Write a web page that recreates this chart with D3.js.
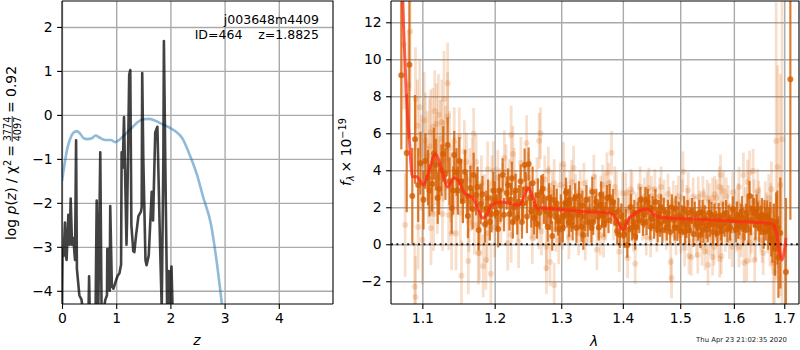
<!DOCTYPE html>
<html>
<head>
<meta charset="utf-8">
<script src="https://d3js.org/d3.v7.min.js"></script>
<style>
  html, body { margin: 0; padding: 0; background: #fff; }
  text { font-family: "DejaVu Sans", sans-serif; fill: #000; }
  .axis path, .axis line { stroke: #000; stroke-width: 1.1; }
  .axis text { font-size: 13.9px; font-family: "DejaVu Sans", sans-serif; }
  .grid line { stroke: #aaa; stroke-width: 1.4; }
  .grid path { display: none; }
</style>
</head>
<body>
<svg id="chart" width="800" height="350"></svg>
<script>
// redshift panel
const pzTicksX = [0, 1, 2, 3, 4];
const pzTicksY = [-4, -3, -2, -1, 0, 1, 2];
const priorCurve = [[0,-1.5],[0.05,-1.1],[0.1,-0.75],[0.15,-0.55],[0.2,-0.42],[0.27,-0.37],[0.33,-0.42],[0.4,-0.53],[0.47,-0.55],
  [0.55,-0.53],[0.62,-0.47],[0.7,-0.52],[0.8,-0.57],[0.9,-0.57],[0.98,-0.62],[1.1,-0.52],[1.2,-0.4],[1.3,-0.28],[1.4,-0.16],
  [1.5,-0.1],[1.6,-0.09],[1.7,-0.12],[1.8,-0.18],[1.9,-0.24],[2.0,-0.3],[2.1,-0.38],[2.23,-0.55],[2.32,-0.8],[2.49,-1.36],
  [2.6,-1.85],[2.75,-2.5],[2.85,-3.3],[2.95,-4.3]];
const pzCurve = [[0,-4.4],[0.01,-3.05],[0.03,-3.2],[0.055,-2.45],[0.07,-3.2],[0.085,-3.3],[0.117,-2.27],[0.14,-2.95],[0.16,-1.9],
  [0.185,-2.95],[0.21,-2.8],[0.24,-3.3],[0.26,-0.58],[0.275,-3.5],[0.32,-4.1],[0.36,-4.2],[0.38,-4.4],[0.49,-4.4],[0.5,-3.67],[0.51,-4.4],
  [0.62,-4.4],[0.64,-1.95],[0.67,-4.4],[0.706,-0.85],[0.73,-4.4],[0.78,-4.35],[0.8,-4.2],[0.83,-4.1],[0.836,-3.05],[0.86,-3.05],[0.88,-4.0],
  [0.89,-2.07],[0.92,-3.9],[0.95,-3.95],[1.0,-3.75],[1.03,-3.65],[1.06,-3.6],[1.09,-3.4],[1.1,-0.85],[1.12,-1.2],[1.144,-0.05],[1.19,-2.95],
  [1.2,-2.4],[1.24,0.92],[1.26,1.02],[1.28,-2.5],[1.315,-3.1],[1.335,-3.12],[1.365,-2.75],[1.41,-2.3],[1.457,-2.2],[1.47,-2.1],[1.48,0.95],
  [1.5,-1.0],[1.54,-3.3],[1.56,-3.42],[1.6,-3.2],[1.655,-1.75],[1.68,-2.4],[1.72,-0.4],[1.76,-0.27],[1.81,-3],[1.84,-4.4],[1.87,-1.0],
  [1.88,1.68],[1.91,-1.5],[1.94,-4.4],[1.97,-3.55],[1.99,-4.4],[2.02,-3.45],[2.04,-4.4]];

// spectrum panel, each row is wavelength, flux, error
const specTicksX = [1.1, 1.2, 1.3, 1.4, 1.5, 1.6, 1.7];
const specTicksY = [-2, 0, 2, 4, 6, 8, 10, 12];
const palePoints = [[1.0755,10.8,3.5],[1.084,11.5,3.2],[1.0815,8.6,3.0],[1.0965,7.4,2.6],[1.091,7.85,2.8],[1.0935,6.4,2.5],[1.1165,7.2,2.2],
  [1.129,7.85,2.6],[1.134,8.7,2.2],[1.134,6.9,2.4],[1.126,6.6,2.3],[1.119,6.5,2.2],[1.114,6.35,2.1],[1.111,6.07,2.3],[1.104,5.6,2.6],
  [1.1245,5.7,2.1],[1.143,5.6,1.8],[1.15,5.8,1.6],[1.17,5.97,1.4],[1.16,4.44,1.6],[1.1735,4.44,1.5],[1.19,4.05,1.5],[1.198,3.97,1.6],
  [1.0775,1.04,2.8],[1.0945,0.93,2.3],[1.1,0.23,2.4],[1.1115,0.87,2.0],[1.09,-2.3,2.4],[1.091,-2.85,2.2],[1.1455,0.6,2.0],[1.1395,0.6,2.0],
  [1.153,-1.7,1.9],[1.1625,-0.9,1.8],[1.1765,-0.47,1.7],[1.178,-0.47,1.5],[1.1835,-1.17,1.7],[1.1875,-0.85,1.6],[1.1945,-1.6,1.7],
  [1.12,2.56,2.0],[1.127,1.64,2.0],[1.115,1.64,2.0],[1.1355,1.58,1.9],[1.189,0.6,1.6],[1.171,1.04,1.6],[1.1635,1.2,1.6],[1.181,3.3,1.5],[1.196,3.3,1.5],
  [1.108,3.2,2.1],[1.122,3.6,2.0],[1.138,3.1,1.9],[1.155,2.9,1.7],[1.166,2.3,1.6],[1.186,2.3,1.5],[1.202,2.7,1.5],
  [1.268,6.0,1.4],[1.266,5.6,1.5],[1.224,5.9,1.6],[1.247,5.47,1.5],[1.2265,4.88,1.5],[1.214,4.66,1.5],[1.28,3.97,1.3],[1.3035,4.34,1.2],
  [1.3195,4.12,1.2],[1.3165,3.37,1.2],[1.289,3.3,1.3],[1.2805,2.94,1.3],[1.286,2.77,1.2],[1.3135,2.77,1.2],[1.277,-1.28,1.4],[1.2825,-0.96,1.3],
  [1.289,-2.2,1.2],[1.2555,0.34,1.4],[1.277,-0.15,1.3],[1.2655,1.04,1.3],[1.219,0.07,1.5],[1.235,0.12,1.4],[1.224,0.5,1.5],[1.209,1.42,1.5],
  [1.296,0.23,1.3],[1.312,0.39,1.2],[1.338,0.23,1.1],[1.343,1.0,1.1],[1.207,2.6,1.5],[1.231,2.5,1.5],[1.24,2.1,1.4],[1.252,3.2,1.4],[1.259,1.5,1.3],
  [1.272,2.4,1.3],[1.293,2.0,1.2],[1.3,1.3,1.2],[1.308,2.2,1.2],[1.325,1.7,1.2],[1.33,2.9,1.1],[1.34,2.4,1.1],
  [1.381,4.93,1.2],[1.352,3.64,1.2],[1.3735,3.86,1.1],[1.3765,3.3,1.1],[1.389,2.83,1.1],[1.3995,2.77,1.1],[1.405,2.77,1.1],[1.4135,2.97,1.1],
  [1.4445,3.04,1.1],[1.455,2.97,1.1],[1.466,3.1,1.1],[1.478,2.72,1.1],[1.4875,2.34,1.1],[1.497,2.61,1.1],[1.505,3.92,1.1],[1.357,-0.3,1.1],
  [1.394,-0.4,1.1],[1.408,-0.74,1.1],[1.421,-1.06,1.1],[1.483,-0.96,1.1],[1.4845,-1.82,1.1],[1.516,-0.63,1.0],[1.508,-0.2,1.0],[1.368,0.39,1.1],
  [1.3845,1.31,1.1],[1.3635,2.61,1.1],[1.346,2.0,1.1],[1.36,1.4,1.1],[1.37,2.7,1.1],[1.398,1.1,1.1],[1.411,1.8,1.1],[1.418,0.6,1.0],[1.427,2.2,1.1],
  [1.4335,1.2,1.0],[1.44,0.4,1.0],[1.449,2.6,1.1],[1.46,1.7,1.0],[1.471,2.4,1.1],[1.475,0.7,1.0],[1.49,1.0,1.0],[1.493,2.2,1.0],[1.501,0.5,1.0],[1.512,2.2,1.0],
  [1.6835,5.58,7.5],[1.6955,5.68,9],[1.6865,4.18,5.5],[1.692,3.2,6],[1.5745,3.75,1.1],[1.6185,3.75,1.2],[1.6305,3.86,1.2],[1.6375,3.96,1.2],
  [1.6265,3.37,1.2],[1.61,3.1,1.1],[1.5725,3.1,1.1],[1.5805,2.88,1.1],[1.6465,2.88,1.2],[1.674,2.97,1.5],[1.533,2.56,1.1],[1.5495,2.5,1.0],
  [1.5595,2.5,1.1],[1.567,2.5,1.0],[1.6685,2.5,1.3],[1.6485,2.23,1.2],[1.551,-1.12,1.1],[1.576,-0.63,1.0],[1.573,-0.8,1.0],[1.62,-1.0,1.1],
  [1.625,-0.9,1.1],[1.6405,-0.85,1.2],[1.68,-1.5,3.2],[1.52,-0.7,1.0],[1.532,-0.58,1.0],[1.5455,-0.4,1.0],[1.5595,-0.69,1.0],[1.5625,-0.15,1.0],
  [1.597,-0.13,1.1],[1.61,-0.15,1.1],[1.6575,-0.47,1.2],[1.54,-0.15,1.0],[1.5265,1.6,1.0],[1.538,0.9,1.0],[1.5435,2.0,1.0],[1.555,0.4,1.0],[1.565,1.3,1.0],
  [1.5835,0.6,1.0],[1.589,2.1,1.1],[1.5935,1.2,1.0],[1.603,1.9,1.1],[1.6145,0.4,1.1],[1.6225,2.0,1.1],[1.634,0.6,1.1],[1.644,1.7,1.2],[1.6525,0.8,1.2],
  [1.664,1.5,1.3],[1.671,0.2,1.4],[1.6775,-1.0,3.0]];
const paleExtra = [[1.0985,4.4,2.6],[1.1025,6.7,2.6],[1.1065,4.8,2.4],[1.1095,5.3,2.6],[1.1135,3.9,2.3],[1.1185,4.5,2.4],[1.1215,7.0,2.2],[1.128,4.5,2.2],
  [1.131,5.2,2.3],[1.1365,5.2,2.0],[1.1415,3.5,2.0],[1.1475,3.7,1.9],[1.1515,1.7,1.8],[1.157,5.0,1.7],[1.1645,3.5,1.7],[1.168,4.2,1.6],[1.175,2.5,1.6],
  [1.1795,1.5,1.6],[1.1925,1.7,1.5],[1.2,0.9,1.6],[1.2045,3.6,1.5],[1.2115,2.9,1.5],[1.2165,3.9,1.5],[1.2215,3.1,1.5],[1.2285,3.7,1.5],[1.2335,1.6,1.4],
  [1.2385,4.4,1.4],[1.2435,2.9,1.4],[1.2495,3.6,1.4],[1.2545,1.7,1.4],[1.2625,3.4,1.3],[1.2695,0.7,1.3],[1.2745,3.5,1.3],[1.2835,2.0,1.3],[1.2915,0.8,1.2],
  [1.2985,3.2,1.2],[1.3015,0.9,1.2],[1.3055,3.1,1.2],[1.3105,1.2,1.2],[1.3225,2.6,1.2],[1.3275,0.6,1.2],[1.3325,1.5,1.1],[1.336,3.3,1.1],[1.349,1.0,1.1],
  [1.3545,2.7,1.1],[1.3625,0.5,1.1],[1.3665,3.2,1.1],[1.3715,1.3,1.1],[1.3785,2.4,1.1],[1.3865,3.1,1.1],[1.3915,1.6,1.1],[1.4025,1.7,1.1],[1.4075,1.9,1.1],
  [1.4155,2.8,1.1],[1.4225,1.7,1.1],[1.4295,3.1,1.1],[1.4365,2.6,1.0],[1.4415,2.9,1.0],[1.4475,0.3,1.0],[1.4525,2.1,1.0],[1.4585,0.6,1.0],[1.4635,2.6,1.0],
  [1.4695,1.2,1.0],[1.4805,2.1,1.0],[1.4855,1.4,1.0],[1.4925,0.4,1.0],[1.4995,1.5,1.0],[1.5035,2.5,1.0],[1.5095,1.0,1.0],[1.5145,2.9,1.0],[1.5185,1.5,1.0],
  [1.5235,2.6,1.0],[1.5295,0.3,1.0],[1.5355,1.9,1.0],[1.5415,2.7,1.0],[1.5475,0.5,1.0],[1.5535,2.3,1.0],[1.5575,0.9,1.0],[1.5635,2.7,1.0],[1.5695,0.3,1.0],
  [1.5775,2.2,1.0],[1.5855,2.6,1.0],[1.5915,0.2,1.0],[1.5975,2.8,1.1],[1.6055,0.7,1.1],[1.6085,2.2,1.1],[1.6165,1.0,1.1],[1.6285,2.6,1.1],[1.6315,0.1,1.1],
  [1.6395,2.3,1.2],[1.6425,0.3,1.2],[1.6505,1.9,1.2],[1.6555,0.2,1.2],[1.6615,2.1,1.3],[1.6665,0.8,1.3],[1.6725,1.8,1.5],[1.6755,0.4,1.8]];
const darkPoints = [[1.0725,9.13,4.0],[1.0795,4.93,3.2],[1.083,9.7,4.0],[1.0868,2.61,2.6],[1.0904,5.67,2.4],[1.0945,3.2,2.0],[1.0975,4.38,1.7],
  [1.1015,2.4,1.6],[1.104,4.5,1.5],[1.1075,3.6,1.5],[1.113,3.26,1.5],[1.118,4.3,1.4],[1.1225,3.0,1.4],[1.128,4.88,1.5],[1.131,3.8,1.4],[1.134,5.36,1.5],
  [1.1395,1.96,1.4],[1.143,4.83,1.3],[1.148,2.9,1.3],[1.15,4.5,1.3],[1.155,2.34,1.2],[1.162,1.53,1.2],[1.1655,3.04,1.2],[1.17,3.75,1.2],[1.1735,2.66,1.1],
  [1.177,0.77,1.1],[1.18,2.18,1.1],[1.186,1.08,1.0],[1.1905,2.5,1.0],[1.1955,1.64,1.0],[1.2005,2.4,1.0],[1.205,0.83,1.0],[1.2085,2.1,0.9],[1.2115,3.75,0.9],
  [1.2175,2.77,0.9],[1.2215,1.64,0.9],[1.225,3.57,0.9],[1.2285,2.0,0.9],[1.233,1.42,0.9],[1.238,3.41,0.9],[1.2415,2.2,0.9],[1.244,4.28,0.9],[1.2475,1.5,0.9],
  [1.25,4.34,0.9],[1.254,1.8,0.9],[1.258,1.42,0.9],[1.2605,2.0,0.8],[1.264,2.66,0.9],[1.269,2.83,0.9],[1.2735,1.9,0.8],[1.279,0.93,0.8],[1.2825,1.58,0.8],
  [1.286,0.45,0.8],[1.291,1.48,0.8],[1.295,1.26,0.8],[1.2995,1.9,0.8],[1.3025,0.9,0.8],[1.306,2.23,0.8],[1.3095,1.7,0.8],[1.3125,1.2,0.8],[1.316,1.47,0.8],
  [1.32,1.9,0.8],[1.324,0.88,0.8],[1.328,2.61,0.8],[1.332,0.93,0.8],[1.335,0.5,0.8],[1.342,1.2,0.8],[1.348,0.88,0.8],[1.3495,2.84,0.8],[1.3535,1.9,0.7],
  [1.3585,1.48,0.7],[1.362,2.1,0.7],[1.3655,1.58,0.7],[1.369,1.1,0.7],[1.3735,2.5,0.7],[1.378,2.56,0.7],[1.3835,2.29,0.7],[1.389,1.15,0.7],[1.3925,1.8,0.7],
  [1.395,0.5,0.7],[1.4005,1.0,0.7],[1.4075,-0.04,0.7],[1.4135,2.02,0.7],[1.4175,1.2,0.7],[1.421,0.4,0.7],[1.4255,1.6,0.7],[1.43,2.4,0.7],[1.4345,1.15,0.7],
  [1.4385,2.4,0.7],[1.4425,2.29,0.7],[1.447,0.94,0.7],[1.451,1.9,0.7],[1.456,2.29,0.7],[1.462,1.69,0.7],[1.4655,2.0,0.7],[1.468,0.77,0.7],[1.4735,1.31,0.7],
  [1.478,1.7,0.7],[1.482,0.66,0.7],[1.488,1.31,0.7],[1.492,1.9,0.7],[1.495,0.88,0.7],[1.5025,1.42,0.7],[1.507,1.9,0.7],[1.5115,1.04,0.7],[1.516,0.77,0.7],
  [1.524,0.56,0.7],[1.5295,1.1,0.7],[1.535,1.7,0.7],[1.539,1.2,0.7],[1.5425,0.77,0.7],[1.548,1.0,0.7],[1.553,1.7,0.7],[1.5575,1.6,0.7],[1.5605,0.66,0.7],
  [1.566,1.1,0.7],[1.571,1.53,0.7],[1.575,0.9,0.7],[1.579,1.58,0.7],[1.585,1.69,0.7],[1.59,1.42,0.7],[1.5955,1.3,0.7],[1.6015,1.3,0.7],[1.6085,0.99,0.7],
  [1.6135,1.5,0.7],[1.6185,0.83,0.8],[1.624,1.4,0.8],[1.6305,2.61,0.8],[1.6365,1.9,0.8],[1.642,1.04,0.8],[1.647,1.5,0.8],[1.6525,1.3,0.8],[1.6585,0.66,0.9],
  [1.6625,1.1,0.9],[1.6655,1.47,0.9],[1.6695,1.0,1.0],[1.6735,0.34,1.0],[1.679,0.9,1.3],[1.6835,1.2,1.6],[1.688,-0.7,2.2],[1.692,0.61,3.0],[1.7035,-1.5,4.0],[1.7125,8.92,7.6]];
const darkExtra = [[1.1095,2.9,1.4],[1.1155,4.9,1.4],[1.1205,2.5,1.4],[1.1255,4.0,1.4],[1.1365,3.4,1.3],[1.1415,2.9,1.3],[1.146,3.9,1.3],[1.1525,3.4,1.2],
  [1.158,3.9,1.2],[1.1605,2.6,1.2],[1.1685,1.9,1.1],[1.1755,3.1,1.1],[1.1825,2.7,1.0],[1.188,1.9,1.0],[1.193,1.2,1.0],[1.198,2.9,1.0],[1.203,1.7,1.0],
  [1.2065,2.9,0.9],[1.2135,1.6,0.9],[1.2195,3.2,0.9],[1.2235,2.4,0.9],[1.2265,1.2,0.9],[1.2305,2.9,0.9],[1.2355,2.3,0.9],[1.24,1.2,0.9],[1.246,3.0,0.9],
  [1.252,2.5,0.9],[1.256,3.3,0.9],[1.2625,1.1,0.8],[1.2665,1.7,0.9],[1.2715,3.0,0.8],[1.2765,1.8,0.8],[1.281,2.5,0.8],[1.2845,1.9,0.8],[1.2885,2.4,0.8],
  [1.293,2.2,0.8],[1.2975,0.8,0.8],[1.3045,1.5,0.8],[1.3075,2.8,0.8],[1.311,2.2,0.8],[1.314,2.4,0.8],[1.318,1.0,0.8],[1.322,2.5,0.8],[1.326,1.6,0.8],
  [1.33,1.7,0.8],[1.3335,2.1,0.8],[1.3375,1.5,0.8],[1.34,2.4,0.8],[1.345,1.8,0.8],[1.351,1.2,0.7],[1.356,2.3,0.7],[1.36,0.9,0.7],[1.364,2.7,0.7],[1.367,1.9,0.7],
  [1.371,1.6,0.7],[1.376,1.3,0.7],[1.3805,1.8,0.7],[1.386,1.7,0.7],[1.3905,0.7,0.7],[1.3975,1.5,0.7],[1.4025,0.5,0.7],[1.405,1.2,0.7],[1.4105,0.8,0.7],
  [1.4155,0.9,0.7],[1.4195,1.7,0.7],[1.4235,0.9,0.7],[1.428,1.3,0.7],[1.432,1.9,0.7],[1.4365,1.6,0.7],[1.4405,1.2,0.7],[1.445,2.0,0.7],[1.449,1.4,0.7],
  [1.4535,1.0,0.7],[1.4585,1.3,0.7],[1.46,0.8,0.7],[1.464,1.1,0.7],[1.4705,1.8,0.7],[1.476,0.9,0.7],[1.48,1.4,0.7],[1.485,2.0,0.7],[1.49,0.9,0.7],[1.4975,1.6,0.7],
  [1.5,0.7,0.7],[1.505,1.2,0.7],[1.509,0.7,0.7],[1.5135,1.7,0.7],[1.5185,1.3,0.7],[1.5215,1.8,0.7],[1.5265,1.6,0.7],[1.5325,0.9,0.7],[1.537,0.5,0.7],[1.541,1.7,0.7],
  [1.545,1.4,0.7],[1.5505,0.8,0.7],[1.555,1.1,0.7],[1.563,1.5,0.7],[1.5685,0.6,0.7],[1.573,1.3,0.7],[1.577,0.7,0.7],[1.582,1.1,0.7],[1.5875,0.8,0.7],[1.5925,0.9,0.7],
  [1.598,1.9,0.7],[1.604,0.8,0.7],[1.606,1.6,0.7],[1.611,1.2,0.7],[1.616,1.8,0.8],[1.621,1.0,0.8],[1.6265,1.7,0.8],[1.6285,0.8,0.8],[1.633,1.3,0.8],[1.639,1.7,0.8],
  [1.6445,1.9,0.8],[1.6495,0.9,0.8],[1.655,1.6,0.9],[1.66,1.5,0.9],[1.6675,0.7,1.0],[1.6715,1.3,1.0],[1.676,0.2,1.2],[1.681,-0.2,1.5],[1.686,0.9,2.0]];
const modelCurve = [[1.074,13.4],[1.08,7.4],[1.083,5.6],[1.087,3.65],[1.0925,3.65],[1.1015,3.2],[1.108,3.85],[1.1175,4.88],[1.121,4.66],[1.127,3.85],
  [1.134,3.1],[1.143,3.58],[1.15,3.37],[1.157,2.77],[1.169,2.5],[1.1755,1.96],[1.183,1.42],[1.19,1.69],[1.1945,2.07],[1.209,2.29],[1.2365,2.12],[1.244,2.66],
  [1.25,3.04],[1.256,2.56],[1.264,1.91],[1.2685,1.96],[1.292,1.91],[1.347,1.75],[1.379,1.69],[1.39,1.31],[1.4,0.77],[1.411,1.42],[1.4425,1.91],[1.4555,1.53],
  [1.4805,1.42],[1.518,1.37],[1.6,1.25],[1.677,1.1],[1.6835,0.66],[1.69,-0.3],[1.6955,-0.85],[1.7005,-0.3],[1.7035,0.34]];

let svg = d3.select('#chart');
svg.append('rect').attr('width', 800).attr('height', 350).attr('fill', '#fff');

// left panel: log p(z)
let pzBox = { left: 62, right: 333, top: 1, bottom: 304 };
let pzX = d3.scaleLinear().domain([0, 5]).range([pzBox.left, pzBox.right]);
let pzY = d3.scaleLinear().domain([-4.3, 2.59]).range([pzBox.bottom, pzBox.top]);

// right panel: spectrum, wavelength axis is logarithmic
let specBox = { left: 391, right: 799, top: 1, bottom: 304 };
let specX = d3.scaleLog().domain([1.0593, 1.7304]).range([specBox.left, specBox.right]);
let specY = d3.scaleLinear().domain([-3.23, 13.15]).range([specBox.bottom, specBox.top]);

let defs = svg.append('defs');
defs.append('clipPath').attr('id', 'clipPz').append('rect')
  .attr('x', pzBox.left).attr('y', pzBox.top)
  .attr('width', pzBox.right - pzBox.left).attr('height', pzBox.bottom - pzBox.top);
defs.append('clipPath').attr('id', 'clipSpec').append('rect')
  .attr('x', specBox.left).attr('y', specBox.top)
  .attr('width', specBox.right - specBox.left).attr('height', specBox.bottom - specBox.top);

let drawGrid = function(box, x, y, ticksX, ticksY) {
  svg.append('g').attr('class', 'grid').attr('transform', `translate(0,${box.bottom})`)
    .call(d3.axisBottom(x).tickValues(ticksX).tickSize(-(box.bottom - box.top)).tickFormat(''));
  svg.append('g').attr('class', 'grid').attr('transform', `translate(${box.left},0)`)
    .call(d3.axisLeft(y).tickValues(ticksY).tickSize(-(box.right - box.left)).tickFormat(''));
};

let drawAxes = function(box, x, y, ticksX, ticksY, fmtX) {
  let bottom = svg.append('g').attr('class', 'axis').attr('transform', `translate(0,${box.bottom})`)
    .call(d3.axisBottom(x).tickValues(ticksX).tickSize(4.9).tickPadding(4.5).tickFormat(fmtX));
  bottom.select('.domain').attr('d', `M${box.left},0H${box.right}`);
  let left = svg.append('g').attr('class', 'axis').attr('transform', `translate(${box.left},0)`)
    .call(d3.axisLeft(y).tickValues(ticksY).tickSize(4.9).tickPadding(4.5).tickFormat(d3.format('d')));
  left.select('.domain').attr('d', `M0,${box.top}V${box.bottom}`);
  // top and right spines
  svg.append('path').attr('fill', 'none').attr('stroke', '#000').attr('stroke-width', 1.1)
    .attr('d', `M${box.left},${box.top}H${box.right}V${box.bottom}`);
};

drawGrid(pzBox, pzX, pzY, pzTicksX, pzTicksY);
drawGrid(specBox, specX, specY, specTicksX, specTicksY);

let pzLine = d3.line().x(d => pzX(d[0])).y(d => pzY(d[1]));
let pzLayer = svg.append('g').attr('clip-path', 'url(#clipPz)');
pzLayer.append('path').datum(priorCurve)
  .attr('d', pzLine.curve(d3.curveMonotoneX))
  .attr('fill', 'none').attr('stroke', '#1f77b4').attr('stroke-opacity', 0.5).attr('stroke-width', 2.6);
pzLayer.append('path').datum(pzCurve)
  .attr('d', pzLine.curve(d3.curveLinear))
  .attr('fill', 'none').attr('stroke', '#000').attr('stroke-opacity', 0.74).attr('stroke-width', 2.6)
  .attr('stroke-linejoin', 'round');

let specLayer = svg.append('g').attr('clip-path', 'url(#clipSpec)');

// pale points first, the darker ones sit over them
let drawPoints = function(rows, color, opacity, barWidth, radius) {
  let g = specLayer.append('g').selectAll('g').data(rows).enter().append('g');
  g.append('line')
    .attr('x1', d => specX(d[0])).attr('x2', d => specX(d[0]))
    .attr('y1', d => specY(d[1] - d[2])).attr('y2', d => specY(d[1] + d[2]))
    .attr('stroke', color).attr('stroke-opacity', opacity).attr('stroke-width', barWidth);
  g.append('circle')
    .attr('cx', d => specX(d[0])).attr('cy', d => specY(d[1])).attr('r', radius)
    .attr('fill', color).attr('fill-opacity', opacity);
};
drawPoints(palePoints.concat(paleExtra), '#d55e00', 0.2, 2.8, 3);
drawPoints(darkPoints.concat(darkExtra), '#d55e00', 0.8, 2.2, 3);

specLayer.append('path').datum(specX.domain())
  .attr('d', d3.line().x(d => specX(d)).y(() => specY(0)))
  .attr('fill', 'none').attr('stroke', '#000').attr('stroke-opacity', 0.85)
  .attr('stroke-width', 2).attr('stroke-dasharray', '2 3.4');

specLayer.append('path').datum(modelCurve)
  .attr('d', d3.line().x(d => specX(d[0])).y(d => specY(d[1])).curve(d3.curveMonotoneX))
  .attr('fill', 'none').attr('stroke', '#ff2a1a').attr('stroke-opacity', 0.75).attr('stroke-width', 3);

drawAxes(pzBox, pzX, pzY, pzTicksX, pzTicksY, d3.format('d'));
drawAxes(specBox, specX, specY, specTicksX, specTicksY, d3.format('.1f'));

// annotation
svg.append('text').attr('x', 319).attr('y', 24).attr('text-anchor', 'end')
  .style('font-size', '12.5px').text('j003648m4409');
svg.append('text').attr('x', 319).attr('y', 39).attr('text-anchor', 'end')
  .style('font-size', '12.5px').style('white-space', 'pre').text('ID=464    z=1.8825');

// axis titles
svg.append('text').attr('x', 197).attr('y', 345).attr('text-anchor', 'middle')
  .style('font-size', '13.9px').style('font-style', 'italic').text('z');
svg.append('text').attr('x', 594).attr('y', 346).attr('text-anchor', 'middle')
  .style('font-size', '13.9px').style('font-style', 'italic').text('λ');

// rotated y title of the left panel, with its fraction placed by hand
let pzTitle = svg.append('g').attr('transform', 'translate(16,240) rotate(-90)');
let pzMain = pzTitle.append('text').style('font-size', '13.9px');
pzMain.append('tspan').text('log ');
pzMain.append('tspan').style('font-style', 'italic').text('p');
pzMain.append('tspan').text('(');
pzMain.append('tspan').style('font-style', 'italic').text('z');
pzMain.append('tspan').text(') / χ');
pzMain.append('tspan').attr('dy', -5).style('font-size', '9.7px').text('2');
pzMain.append('tspan').attr('dy', 5).attr('dx', 3).text('=');
pzTitle.append('text').attr('x', 111).attr('y', -5.5).attr('text-anchor', 'middle')
  .style('font-size', '9.7px').text('3774');
pzTitle.append('line').attr('x1', 98).attr('x2', 124).attr('y1', -3.8).attr('y2', -3.8)
  .attr('stroke', '#000').attr('stroke-width', 0.8);
pzTitle.append('text').attr('x', 111).attr('y', 5).attr('text-anchor', 'middle')
  .style('font-size', '9.7px').text('4097');
pzTitle.append('text').attr('x', 127).attr('y', 0).style('font-size', '13.9px').text('= 0.92');

// rotated y title of the right panel
let specTitle = svg.append('text').attr('transform', 'translate(351,186) rotate(-90)').style('font-size', '13.9px');
specTitle.append('tspan').style('font-style', 'italic').text('f');
specTitle.append('tspan').attr('dy', 3).style('font-size', '9.7px').style('font-style', 'italic').text('λ');
specTitle.append('tspan').attr('dy', -3).attr('dx', 3).text('× 10');
specTitle.append('tspan').attr('dy', -5.5).style('font-size', '9.7px').text('−19');

// timestamp
svg.append('text').attr('x', 787).attr('y', 342).attr('text-anchor', 'end')
  .style('font-size', '6.9px').style('fill', '#222').text('Thu Apr 23 21:02:35 2020');
</script>
</body>
</html>
